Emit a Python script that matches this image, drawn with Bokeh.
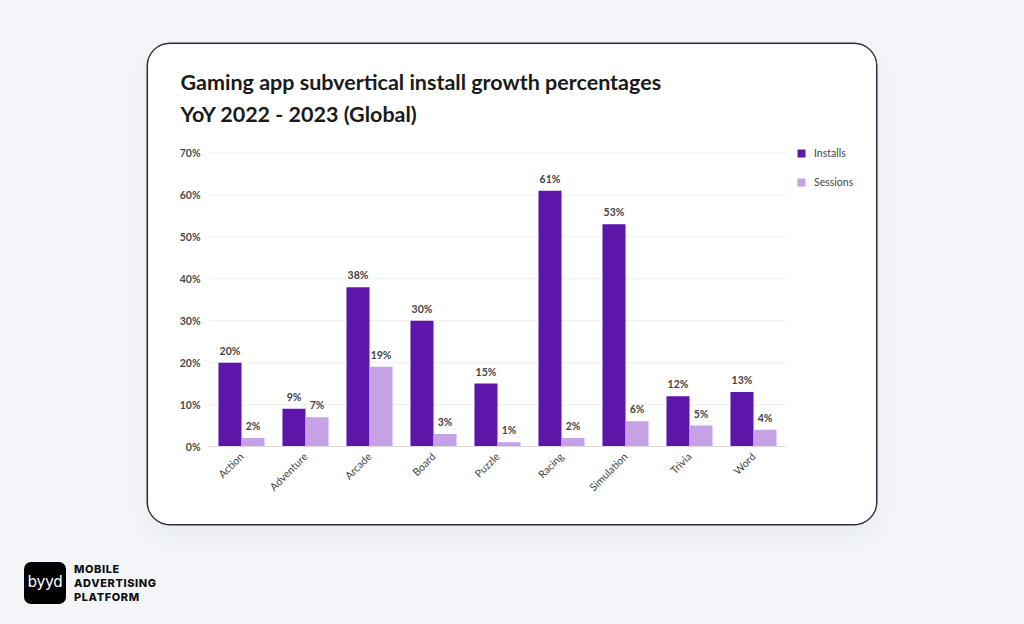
import math
import numpy as np
from bokeh.plotting import figure
from bokeh.layouts import column
from bokeh.models import (ColumnDataSource, Range1d, FixedTicker, PrintfTickFormatter,
                          Legend, LegendItem, Title, Div)
from bokeh.transform import dodge
from bokeh.core.properties import value
from bokeh.embed import file_html
from bokeh.resources import INLINE

categories = ["Action", "Adventure", "Arcade", "Board", "Puzzle", "Racing", "Simulation", "Trivia", "Word"]
installs = [20, 9, 38, 30, 15, 61, 53, 12, 13]
sessions = [2, 7, 19, 3, 1, 2, 6, 5, 4]
y_ticks = [0, 10, 20, 30, 40, 50, 60, 70]
series_names = ["Installs", "Sessions"]
title_lines = ["Gaming app subvertical install growth percentages", "YoY 2022 - 2023 (Global)"]
logo_lines = ["MOBILE", "ADVERTISING", "PLATFORM"]

INST_C = "#5c17aa"
SESS_C = "#c4a2e5"
BG = "#f3f5f9"
FONT = "Lato"

n = len(categories)
xpos = np.arange(n)
src = ColumnDataSource(dict(
    x=xpos, cat=categories, installs=installs, sessions=sessions,
    inst_lbl=[f"{v}%" for v in installs], sess_lbl=[f"{v}%" for v in sessions],
))

# frame spans the chart plus room on the right for the legend (64 px per category)
x_end = -0.5 + 661 / 64
p = figure(width=728, height=480, x_range=Range1d(-0.5, x_end), y_range=Range1d(0, 73),
           output_backend="svg", toolbar_location=None,
           min_border_left=61, min_border_right=6, min_border_top=96, min_border_bottom=78)
p.border_fill_color = "white"
p.background_fill_color = "white"
p.outline_line_color = None
p.margin = (44, 0, 0, 148)
p.styles = {"border-radius": "22px", "overflow": "hidden",
            "box-shadow": "0 0 0 1.5px #2e2e38, 0 10px 24px rgba(40,50,80,0.06)"}

# horizontal gridlines limited to the category area
p.segment(x0=-0.5, x1=n - 0.5, y0=y_ticks, y1=y_ticks, line_color="#eeeeee", line_width=1)

r1 = p.vbar(x=dodge("x", -0.18), top="installs", width=0.36, source=src,
            fill_color=INST_C, line_color=None)
r2 = p.vbar(x=dodge("x", 0.18), top="sessions", width=0.36, source=src,
            fill_color=SESS_C, line_color=None)

p.text(x=dodge("x", -0.18), y="installs", text="inst_lbl", source=src,
       text_align="center", text_baseline="bottom", y_offset=-6, text_font=value(FONT),
       text_font_style="bold", text_font_size="10.5px", text_color="#444444")
p.text(x=dodge("x", 0.18), y="sessions", text="sess_lbl", source=src,
       text_align="center", text_baseline="bottom", y_offset=-6, text_font=value(FONT),
       text_font_style="bold", text_font_size="10.5px", text_color="#444444")

# axes
p.yaxis.ticker = FixedTicker(ticks=y_ticks)
p.yaxis.formatter = PrintfTickFormatter(format="%d%%")
p.yaxis.axis_line_color = None
p.yaxis.major_tick_line_color = None
p.yaxis.minor_tick_line_color = None
p.yaxis.major_tick_out = 0
p.yaxis.minor_tick_out = 0
p.yaxis.major_label_standoff = 9
p.yaxis.major_label_text_font = FONT
p.yaxis.major_label_text_font_style = "bold"
p.yaxis.major_label_text_font_size = "10.5px"
p.yaxis.major_label_text_color = "#4a4a4a"

p.xaxis.ticker = FixedTicker(ticks=list(range(n)))
p.xaxis.major_label_overrides = {i: c for i, c in enumerate(categories)}
p.xaxis.bounds = (-0.5, n - 0.5)
p.xaxis.axis_line_color = "#dcdcdc"
p.xaxis.major_tick_line_color = None
p.xaxis.minor_tick_line_color = None
p.xaxis.major_tick_out = 0
p.xaxis.minor_tick_out = 0
p.xaxis.major_label_orientation = math.pi / 4
p.xaxis.major_label_standoff = 8
p.xaxis.major_label_text_font = FONT
p.xaxis.major_label_text_font_size = "10.5px"
p.xaxis.major_label_text_color = "#444444"

p.xgrid.grid_line_color = None
p.ygrid.grid_line_color = None

# legend (inside the widened frame, right of the bars)
legend = Legend(items=[LegendItem(label=series_names[0], renderers=[r1]),
                       LegendItem(label=series_names[1], renderers=[r2])],
                location=(587, 258), orientation="vertical", margin=0, padding=0,
                glyph_width=10, glyph_height=10, label_height=10, spacing=17,
                label_text_font=FONT, label_text_font_size="10.5px", label_text_color="#444444",
                label_standoff=8, border_line_color=None, background_fill_alpha=0)
p.add_layout(legend)

# title
p.title = Title(text="\n".join(title_lines), align="left", offset=-29, standoff=27,
                text_font=FONT, text_font_style="bold", text_font_size="21.5px",
                text_color="#1a1a1a", text_line_height=1.25)

logo_html = (
    '<div style="display:flex;align-items:center;gap:8px;">'
    '<div style="width:42px;height:42px;background:#000;border-radius:7px;color:#fff;'
    'display:flex;align-items:center;justify-content:center;font-family:\'DejaVu Sans\';'
    'font-size:15px;letter-spacing:-0.5px;">byyd</div>'
    '<div style="font-family:Inter;font-weight:800;font-size:11px;line-height:14px;'
    'letter-spacing:0.6px;color:#111;">' + "<br>".join(logo_lines) + '</div></div>'
)
logo = Div(text=logo_html, width=200, height=44, margin=(38, 0, 0, 24))

root = column(p, logo, width=1024, height=624, spacing=0,
              styles={"background-color": BG})

open("out.html", "w").write(file_html(root, INLINE))
